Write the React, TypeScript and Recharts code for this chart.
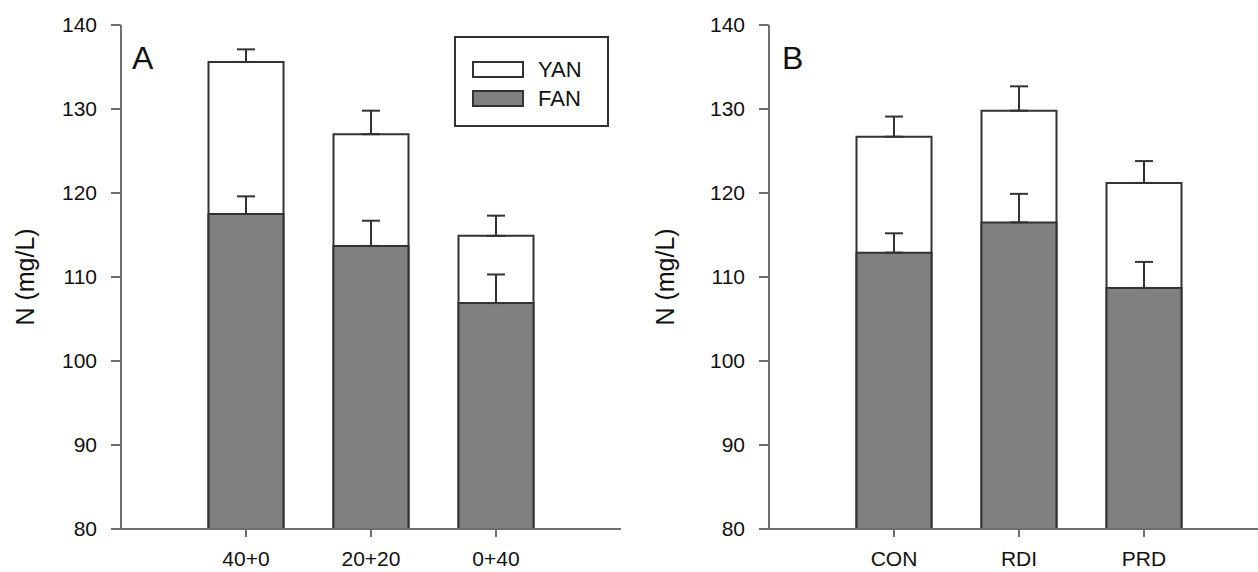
import { BarChart, Bar, XAxis, YAxis, ErrorBar } from "recharts";

// panel A: N fertilization split
const treatmentsA = ["40+0", "20+20", "0+40"];
const yanA = [135.6, 127.0, 114.9];
const yanErrA = [1.5, 2.8, 2.4];
const fanA = [117.5, 113.7, 106.9];
const fanErrA = [2.1, 3.0, 3.4];

// panel B: irrigation
const treatmentsB = ["CON", "RDI", "PRD"];
const yanB = [126.7, 129.8, 121.2];
const yanErrB = [2.4, 2.9, 2.6];
const fanB = [112.9, 116.5, 108.7];
const fanErrB = [2.3, 3.4, 3.1];

const yTicks = [80, 90, 100, 110, 120, 130, 140];
const legendItems = [
  { label: "YAN", fill: "#ffffff" },
  { label: "FAN", fill: "#808080" },
];

const FONT = "'Liberation Sans', Arial, sans-serif";
const AXIS = "#707070";
const EDGE = "#333";

const build = (names: string[], yan: number[], yanErr: number[], fan: number[], fanErr: number[]) =>
  names.map((name, i) => ({
    name,
    YAN: yan[i],
    FAN: fan[i],
    yanErr: [0, yanErr[i]],
    fanErr: [0, fanErr[i]],
  }));

const dataA = build(treatmentsA, yanA, yanErrA, fanA, fanErrA);
const dataB = build(treatmentsB, yanB, yanErrB, fanB, fanErrB);

const LegendBox = () => (
  <div
    style={{
      position: "absolute",
      left: 454,
      top: 36,
      width: 155,
      height: 91,
      boxSizing: "border-box",
      border: `2px solid ${EDGE}`,
      background: "#fff",
      paddingTop: 17,
      paddingLeft: 16,
      fontFamily: FONT,
      fontSize: 22,
      color: "#111",
    }}
  >
    {legendItems.map((p) => (
      <div key={p.label} style={{ display: "flex", alignItems: "center", height: 29 }}>
        <span
          style={{
            display: "inline-block",
            width: 52,
            height: 17,
            boxSizing: "border-box",
            background: p.fill,
            border: `2px solid ${EDGE}`,
            marginRight: 14,
          }}
        />
        <span>{p.label}</span>
      </div>
    ))}
  </div>
);

function Panel({ data, yAxisWidth, marginRight }: { data: any[]; yAxisWidth: number; marginRight: number }) {
  const tick = { fill: "#111", fontSize: 21, fontFamily: FONT };
  return (
    <BarChart
      width={640}
      height={572}
      data={data}
      margin={{ top: 25, right: marginRight, left: 0, bottom: 0 }}
      barSize={75}
      barGap={-75}
    >
      <XAxis
        dataKey="name"
        height={43}
        padding={{ left: 62.5, right: 62.5 }}
        tick={tick}
        fontSize={21}
        fontFamily={FONT}
        tickSize={8}
        tickMargin={14}
        stroke={AXIS}
        strokeWidth={2}
      />
      <XAxis xAxisId="top" dataKey="name" orientation="top" height={0} tick={false} tickLine={false} stroke={AXIS} strokeWidth={2} />
      <YAxis
        domain={[80, 140]}
        ticks={yTicks}
        width={yAxisWidth}
        tick={tick}
        fontSize={21}
        fontFamily={FONT}
        tickSize={10}
        tickMargin={14}
        stroke={AXIS}
        strokeWidth={2}
        label={{
          value: "N (mg/L)",
          angle: -90,
          position: "insideLeft",
          offset: 25,
          style: { textAnchor: "middle", fontSize: 25, fontFamily: FONT, fill: "#111" },
        }}
      />
      <YAxis yAxisId="right" orientation="right" domain={[80, 140]} width={0} tick={false} tickLine={false} stroke={AXIS} strokeWidth={2} />
      <Bar dataKey="YAN" fill="#ffffff" stroke={EDGE} strokeWidth={2} isAnimationActive={false}>
        <ErrorBar dataKey="yanErr" direction="y" width={9} stroke={EDGE} strokeWidth={2} />
      </Bar>
      <Bar dataKey="FAN" fill="#808080" stroke={EDGE} strokeWidth={2} isAnimationActive={false}>
        <ErrorBar dataKey="fanErr" direction="y" width={9} stroke={EDGE} strokeWidth={2} />
      </Bar>
    </BarChart>
  );
}

const letterStyle: React.CSSProperties = {
  position: "absolute",
  fontFamily: FONT,
  fontSize: 32,
  color: "#111",
  lineHeight: 1,
};

export default function App() {
  return (
    <div
      style={{
        position: "absolute",
        left: 0,
        top: 0,
        width: 1258,
        height: 572,
        overflow: "hidden",
        background: "#fff",
      }}
    >
      <div style={{ position: "absolute", left: 0, top: 0 }}>
        <Panel data={dataA} yAxisWidth={121} marginRight={19} />
      </div>
      <div style={{ position: "absolute", left: 640, top: 0 }}>
        <Panel data={dataB} yAxisWidth={129} marginRight={11} />
      </div>
      <LegendBox />
      <div style={{ ...letterStyle, left: 132, top: 42 }}>A</div>
      <div style={{ ...letterStyle, left: 782, top: 42 }}>B</div>
    </div>
  );
}
